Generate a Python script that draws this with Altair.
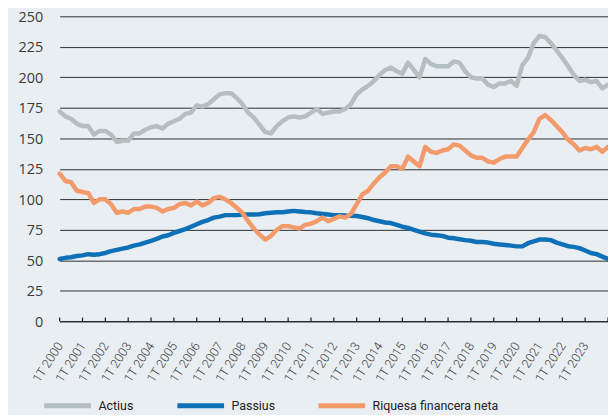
import altair as alt
import pandas as pd

# Quarterly series, 1T 2000 ... 1T 2024 (index 0..96)
actius = [172, 168, 166, 162, 160, 160, 153, 156, 156, 153, 147, 148, 148, 154, 154, 157,
          159, 160, 158, 162, 164, 166, 170, 171, 177, 176, 178, 182, 186, 187, 187, 183,
          178, 171, 167, 161, 155, 154, 160, 164, 167, 168, 167, 168, 171, 174, 170, 171,
          172, 172, 174, 178, 186, 190, 193, 197, 202, 206, 208, 205, 203, 212, 206, 200,
          215, 211, 209, 209, 209, 213, 212, 205, 200, 199, 199, 194, 192, 195, 195, 197,
          193, 210, 216, 228, 234, 233, 228, 222, 216, 209, 202, 197, 198, 196, 197, 191,
          194]
passius = [51, 52, 52.5, 53.5, 54, 55, 54.5, 55, 56, 57.5, 58.5, 59.5, 60.5, 62, 63, 64.5,
           66, 67.5, 69.5, 70.5, 72.5, 74, 75.5, 77.5, 79.5, 81.5, 83, 85, 85.8, 87, 87, 87,
           87.5, 87.5, 87.5, 87.7, 88.5, 89, 89.3, 89.3, 90, 90.5, 90, 89.5, 89.3, 88.5, 88, 87.5,
           87, 87, 86.7, 86.5, 86.3, 85.5, 84.5, 83, 82, 81, 80.5, 79, 77.5, 76.5, 75, 73.5,
           72, 71, 70.5, 70, 68.5, 68, 67.3, 66.5, 66, 65, 65, 64.5, 63.5, 63, 62.5, 62,
           61.4, 61.4, 64, 65.5, 67, 67, 66.5, 64.5, 63, 61.5, 61, 60, 58, 56, 55, 53,
           51]
riquesa = [121, 115, 114, 107, 106, 105, 97, 100, 100, 96, 89, 90, 89, 92, 92, 94,
           94, 93, 90, 92, 93, 96, 97, 95, 98, 95, 97, 101, 102, 100, 97, 93,
           89, 82, 76, 71, 67, 70, 75, 78, 78, 77, 76, 79, 80, 82, 85, 82,
           84, 86, 85, 88, 96, 104, 107, 113, 118, 122, 127, 127, 125, 135, 131, 127,
           143, 139, 138, 140, 141, 145, 144, 140, 136, 134, 134, 131, 130, 133, 135, 135,
           135, 142, 149, 155, 166, 169, 165, 160, 155, 149, 145, 140, 142, 141, 143, 139,
           143]

series_names = ["Actius", "Passius", "Riquesa financera neta"]
series_colors = ["#b5bfbf", "#0e71b8", "#f39a6a"]
years = list(range(2000, 2024))
year_ticks = [4 * k for k in range(len(years) + 1)]

rows = []
for name, vals in zip(series_names, [actius, passius, riquesa]):
    for i, v in enumerate(vals):
        rows.append({"idx": i, "valor": v, "serie": name})
df = pd.DataFrame(rows)
ticks_df = pd.DataFrame({"idx": year_ticks, "y0": 0, "y1": 3})

x_scale = alt.Scale(domain=[0, 96], nice=False, padding=0)
y_scale = alt.Scale(domain=[0, 250], nice=False)

x_axis = alt.Axis(values=year_ticks[:-1], ticks=False, grid=False, domain=True,
                  domainColor="#1a1a1a", domainWidth=1.2,
                  labelExpr="'1T ' + (2000 + datum.value / 4)",
                  labelAngle=-57, labelAlign="right", labelBaseline="middle",
                  labelOverlap=False, labelBound=False, labelFlush=False,
                  labelPadding=22, labelFont="Roboto", labelFontWeight=300,
                  labelFontSize=12.5, labelColor="#3a3a3a")
y_axis = alt.Axis(values=list(range(0, 251, 25)), ticks=False, domain=False,
                  grid=True, gridColor="#2e2e2e", gridWidth=1,
                  labelPadding=17, labelFont="Open Sans", labelFontSize=14.5,
                  labelOffset=1, labelColor="#3a3a3a")

lines = alt.Chart(df).mark_line(strokeWidth=4.5, strokeJoin="round", strokeCap="round").encode(
    x=alt.X("idx:Q", scale=x_scale, title=None, axis=x_axis),
    y=alt.Y("valor:Q", scale=y_scale, title=None, axis=y_axis),
    color=alt.Color("serie:N", sort=series_names,
                    scale=alt.Scale(domain=series_names, range=series_colors),
                    legend=alt.Legend(title=None, orient="none", direction="horizontal",
                                      legendX=-18, legendY=366,
                                      symbolType="stroke", symbolSize=2209,
                                      symbolStrokeWidth=5, labelOffset=5,
                                      columnPadding=33,
                                      labelFont="Roboto", labelFontSize=12.5,
                                      labelColor="#222222")),
    detail="serie:N",
)

tick_rules = alt.Chart(ticks_df).mark_rule(color="#1a1a1a", strokeWidth=1.2).encode(
    x=alt.X("idx:Q", scale=x_scale, title=None, axis=x_axis),
    y=alt.Y("y0:Q", scale=y_scale, title=None, axis=y_axis),
    y2="y1:Q",
)

chart = alt.layer(tick_rules, lines).properties(
    width=552, height=307,
    autosize=alt.AutoSizeParams(type="none"),
    padding={"left": 52, "top": 7, "right": 0, "bottom": 93},
    background="#e9eef3",
).configure_view(stroke=None).configure_axisX(labelOverlap=False)

chart.save("out.html", embed_options={"renderer": "svg", "actions": False})
